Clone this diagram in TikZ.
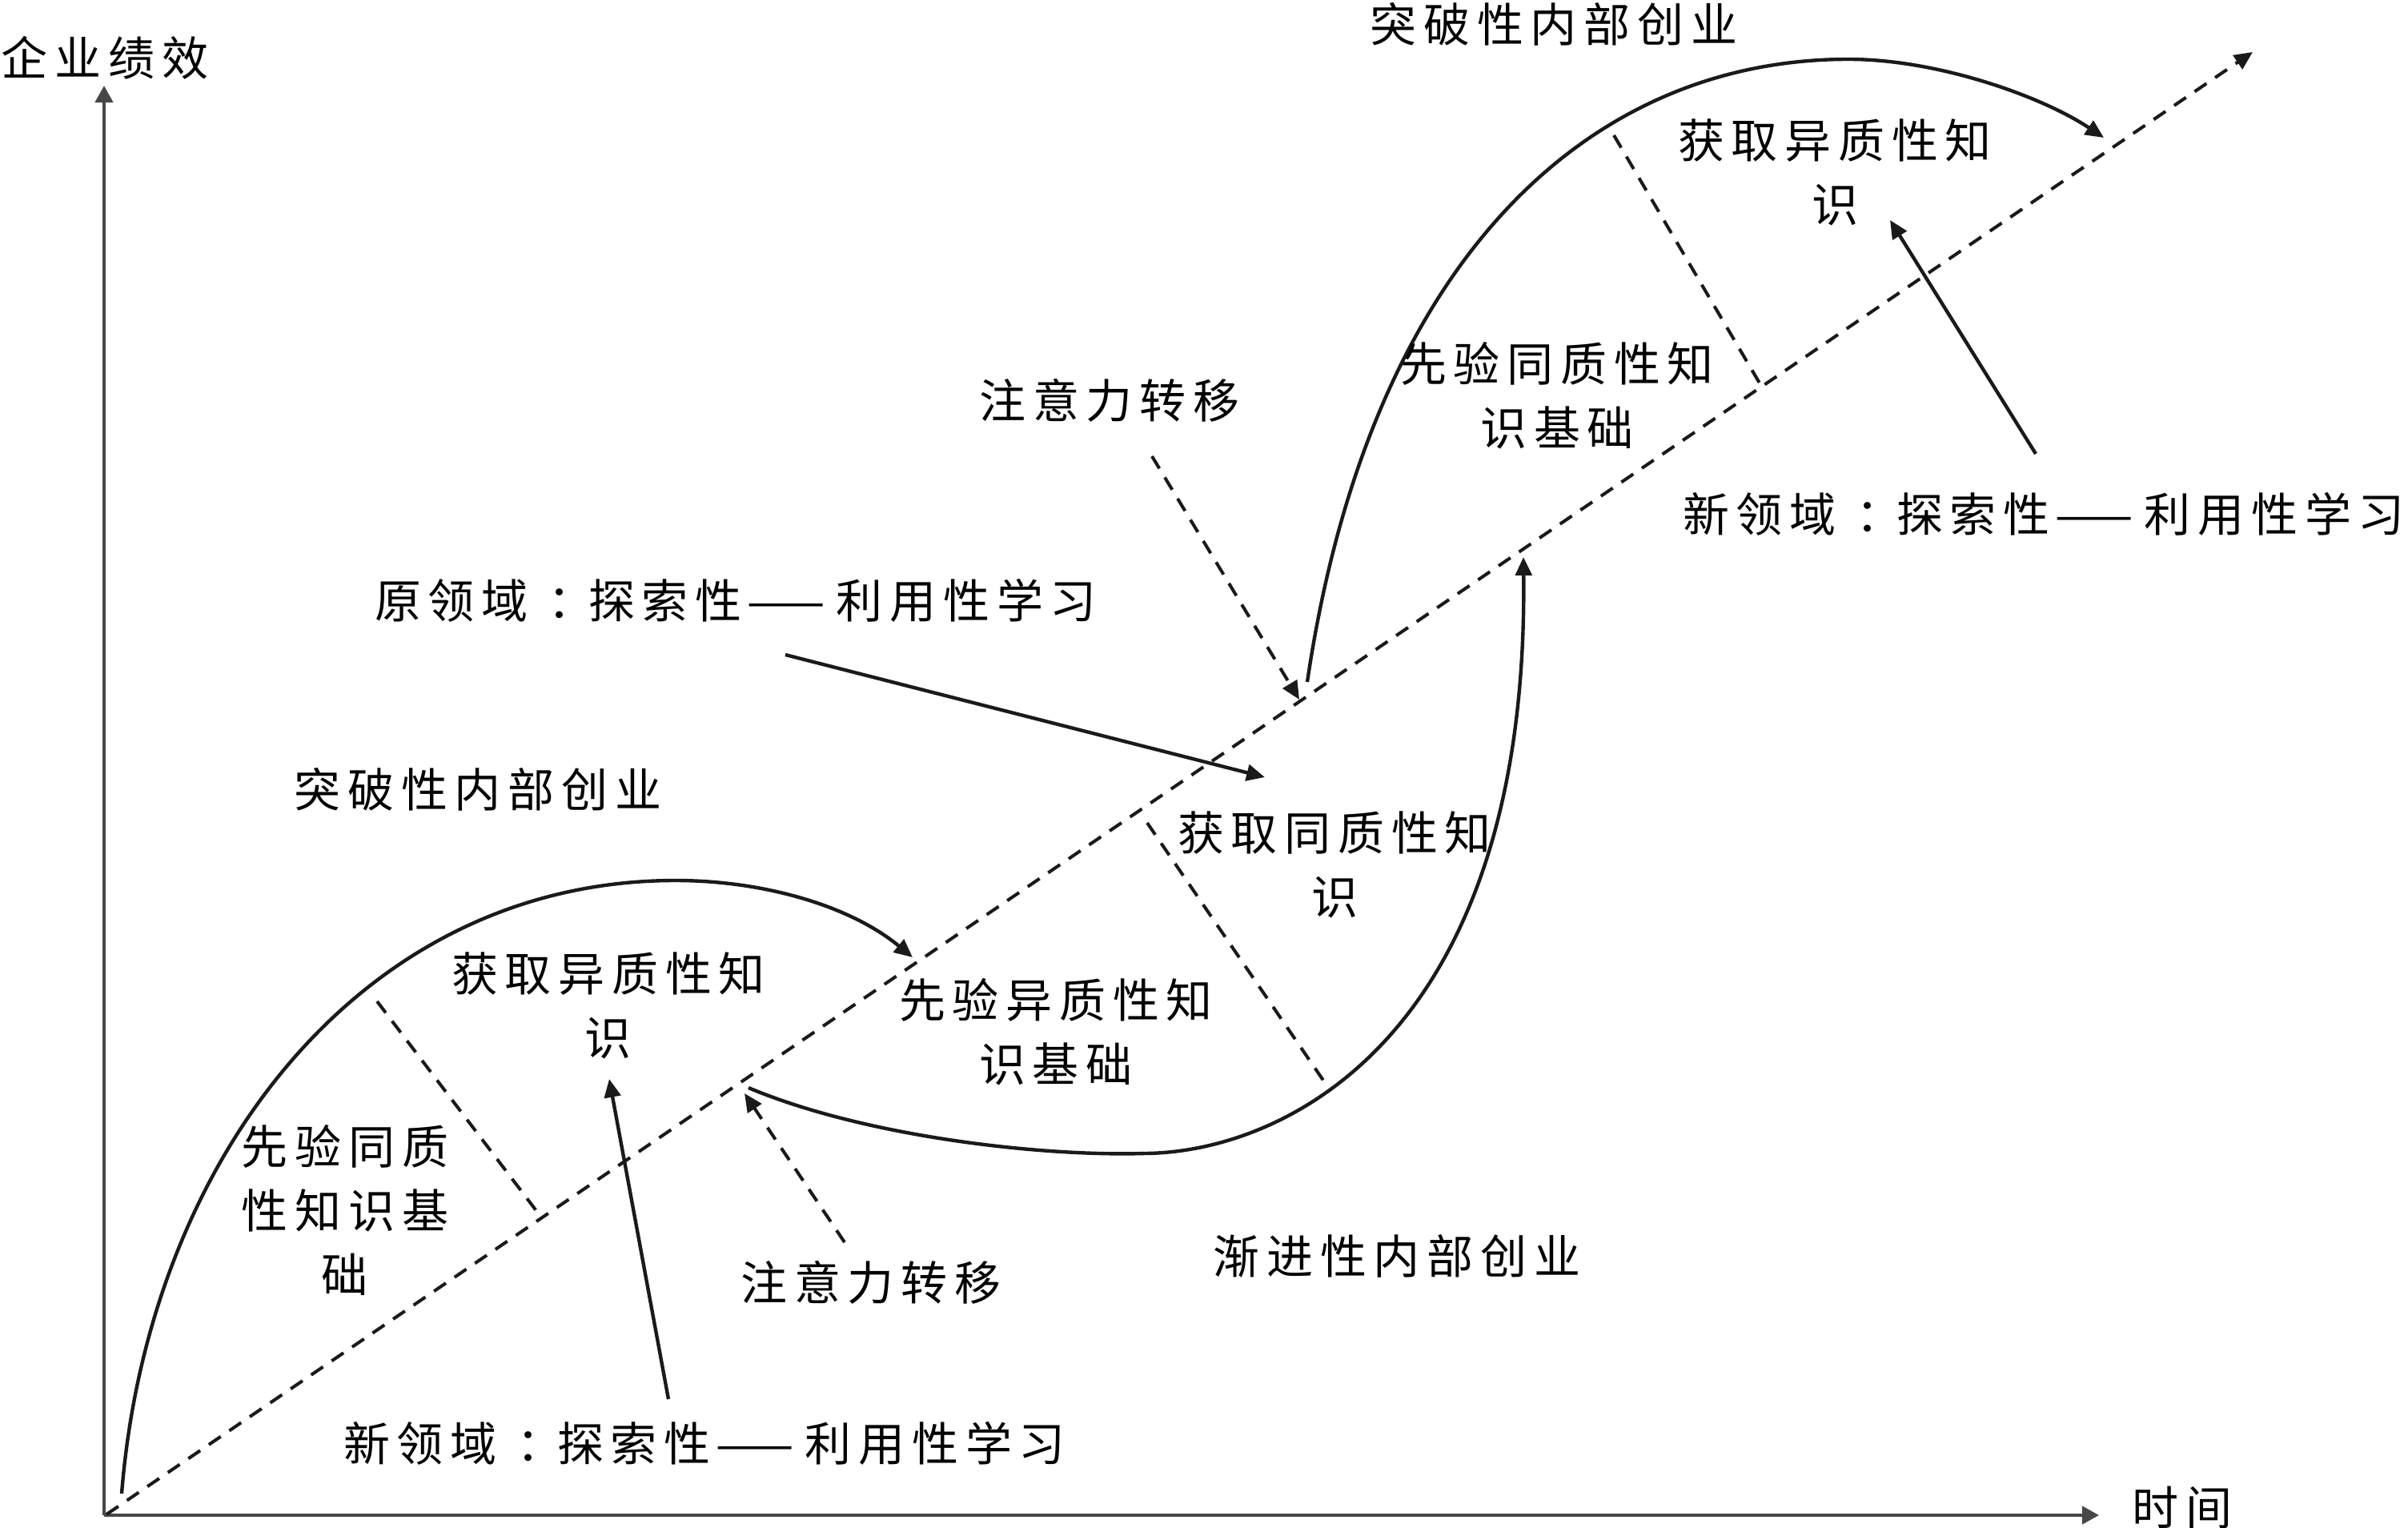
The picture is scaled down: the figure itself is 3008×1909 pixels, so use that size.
\documentclass[tikz,border=0pt]{standalone}
\usepackage{fontspec}
\newfontfamily\cjk[LetterSpace=15]{Noto Sans CJK SC}
\usetikzlibrary{arrows.meta}
\definecolor{axgray}{HTML}{474747}
\definecolor{ink}{HTML}{1A1A1A}
\newcommand\lblfont{\cjk\fontsize{16.5pt}{22.7pt}\selectfont}
\newcommand\ldash{{\addfontfeature{LetterSpace=0}\kern2pt——\kern4pt}}
\newcommand\lcolon{\kern7pt：\kern-2pt}
\begin{document}
\begin{tikzpicture}[x=0.01cm,y=-0.01cm,
  lbl/.style={font=\lblfont, inner sep=0pt, align=center, text=black},
  axis/.style={draw=axgray, line width=1.2pt, -{Triangle[length=6pt,width=6.3pt]}},
  curve/.style={draw=ink, line width=1.25pt},
  arr/.style={-{Triangle[length=6.5pt,width=5.8pt]}},
  dsh/.style={draw=ink, line width=1.15pt, dash pattern=on 5.1pt off 3.7pt},
]
\useasboundingbox (0,0) rectangle (3008,1909);

% axes
\coordinate (O) at (130,1893);
\coordinate (ytip) at (130,107);
\coordinate (xtip) at (2622,1893);
\draw[axis] (O) -- (ytip);
\draw[axis] (O) -- (xtip);
\node[lbl] (ylab) at (131,72) {企业绩效};
\node[lbl] (xlab) at (2726,1884) {时间};

% diagonal
\coordinate (d0) at (133,1892);
\coordinate (d1) at (2814,65);
\draw[dsh, arr] (d0) -- (d1);

% lower breakthrough curve
\coordinate (c1s) at (152,1866);
\coordinate (c1p) at (844,1100);
\coordinate (c1e) at (1140,1196);
\draw[curve, arr] (c1s) .. controls (185,1450) and (450,1100) .. (c1p)
  .. controls (950,1100) and (1060,1130) .. (c1e);
\coordinate (s1a) at (471,1251);
\coordinate (s1b) at (671,1514);
\draw[dsh] (s1a) -- (s1b);

% lower labels
\node[lbl] (t1) at (760,1256) {获取异质性知\\识};
\node[lbl] (t2) at (431,1512) {先验同质\\性知识基\\础};
\node[lbl] (t3) at (1088,1602) {注意力转移};
\node[lbl] (t4) at (880,1803) {新领域\lcolon 探索性\ldash 利用性学习};
\node[lbl] (t5) at (597,986) {突破性内部创业};

\coordinate (a1s) at (835,1748);
\coordinate (a1e) at (761,1348);
\draw[curve, arr] (a1s) -- (a1e);
\coordinate (a2s) at (1055,1552);
\coordinate (a2e) at (930,1366);
\draw[dsh, arr] (a2s) -- (a2e);

% middle incremental curve
\coordinate (c2s) at (935,1359);
\coordinate (c2m) at (1430,1441);
\coordinate (c2e) at (1903,696);
\draw[curve, arr] (c2s) .. controls (1080,1420) and (1300,1445) .. (c2m)
  .. controls (1600,1440) and (1910,1300) .. (c2e);
\coordinate (s2a) at (1433,1028);
\coordinate (s2b) at (1658,1357);
\draw[dsh] (s2a) -- (s2b);

\node[lbl] (t6) at (919,750) {原领域\lcolon 探索性\ldash 利用性学习};
\node[lbl] (t7) at (1386,500) {注意力转移};
\node[lbl] (t8) at (1319,1289) {先验异质性知\\识基础};
\node[lbl] (t9) at (1667,1080) {获取同质性知\\识};
\node[lbl] (t10) at (1745,1569) {渐进性内部创业};

\coordinate (a3s) at (981,818);
\coordinate (a3e) at (1580,971);
\draw[curve, arr] (a3s) -- (a3e);
\coordinate (a4s) at (1439,570);
\coordinate (a4e) at (1623,874);
\draw[dsh, arr] (a4s) -- (a4e);

% upper breakthrough curve
\coordinate (c3s) at (1633,852);
\coordinate (c3p) at (2309,74);
\coordinate (c3e) at (2628,172);
\draw[curve, arr] (c3s) .. controls (1710,330) and (1980,74) .. (c3p)
  .. controls (2420,74) and (2550,120) .. (c3e);
\coordinate (s3a) at (2016,169);
\coordinate (s3b) at (2200,482);
\draw[dsh] (s3a) -- (s3b);

\node[lbl] (t11) at (1941,30) {突破性内部创业};
\node[lbl] (t12) at (2292,215) {获取异质性知\\识};
\node[lbl] (t13) at (1945,494) {先验同质性知\\识基础};
\node[lbl] (t14) at (2553,642) {新领域\lcolon 探索性\ldash 利用性学习};

\coordinate (a5s) at (2543,567);
\coordinate (a5e) at (2361,275);
\draw[curve, arr] (a5s) -- (a5e);
\end{tikzpicture}
\end{document}
